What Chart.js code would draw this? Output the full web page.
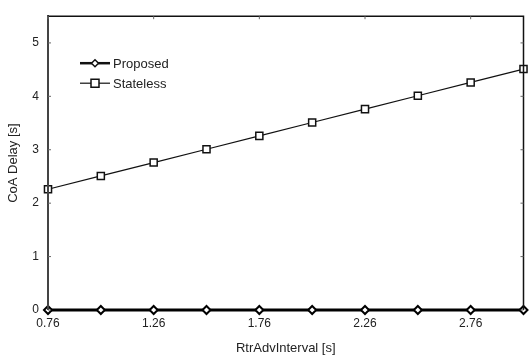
<!DOCTYPE html>
<html>
<head>
<meta charset="utf-8">
<script src="https://cdn.jsdelivr.net/npm/chart.js@4.4.1/dist/chart.umd.min.js"></script>
<style>
  html, body { margin:0; padding:0; background:#fff; }
  #wrap { width:530px; height:360px; position:relative; }
</style>
</head>
<body>
<div id="wrap"><canvas id="c"></canvas></div>
<script>
// data
const intervals = [0.76, 1.01, 1.26, 1.51, 1.76, 2.01, 2.26, 2.51, 2.76, 3.01];
const proposed  = [0, 0, 0, 0, 0, 0, 0, 0, 0, 0];
const stateless = [2.26, 2.51, 2.76, 3.01, 3.26, 3.51, 3.76, 4.01, 4.26, 4.51];
const xTicks = [0.76, 1.26, 1.76, 2.26, 2.76];
const yTicks = [0, 1, 2, 3, 4, 5];

const FONT = 'Liberation Sans, Arial, sans-serif';
const INK = '#222';

const pts = arr => intervals.map((x, i) => ({ x, y: arr[i] }));

// box round the plot, small inner ticks, legend in the upper left
const frame = {
  id: 'frame',
  afterDraw(chart) {
    const { ctx, chartArea: a, scales } = chart;
    ctx.save();
    ctx.strokeStyle = '#111';
    ctx.lineWidth = 1.5;
    ctx.beginPath();
    ctx.moveTo(a.left, a.top); ctx.lineTo(a.right, a.top); ctx.lineTo(a.right, a.bottom);
    ctx.stroke();
    ctx.strokeStyle = '#444';
    ctx.lineWidth = 2;
    ctx.beginPath(); ctx.moveTo(a.left, a.top); ctx.lineTo(a.left, a.bottom); ctx.stroke();

    // inner tick marks
    ctx.strokeStyle = '#666'; ctx.lineWidth = 1;
    ctx.beginPath();
    yTicks.forEach(v => {
      const y = scales.y.getPixelForValue(v);
      ctx.moveTo(a.left, y); ctx.lineTo(a.left + 3, y);
      ctx.moveTo(a.right, y); ctx.lineTo(a.right - 3, y);
    });
    xTicks.forEach(v => {
      const x = scales.x.getPixelForValue(v);
      ctx.moveTo(x, a.top); ctx.lineTo(x, a.top + 3);
    });
    ctx.stroke();

    const rows = [
      { t: 'Proposed',  lw: 2.5, shape: 'diamond' },
      { t: 'Stateless', lw: 1.2, shape: 'square' },
    ];
    rows.forEach((r, i) => {
      const y = a.top + 47 + i * 20, x0 = a.left + 32;
      ctx.strokeStyle = '#111'; ctx.lineWidth = r.lw;
      ctx.beginPath(); ctx.moveTo(x0, y); ctx.lineTo(x0 + 30, y); ctx.stroke();
      ctx.fillStyle = '#fff'; ctx.lineWidth = 1.5;
      const cx = x0 + 15;
      ctx.beginPath();
      if (r.shape === 'diamond') {
        ctx.moveTo(cx, y - 3.5); ctx.lineTo(cx + 3.5, y); ctx.lineTo(cx, y + 3.5); ctx.lineTo(cx - 3.5, y); ctx.closePath();
      } else {
        ctx.rect(cx - 4, y - 4, 8, 8);
      }
      ctx.fill(); ctx.stroke();
      ctx.fillStyle = INK; ctx.font = '13px ' + FONT; ctx.textBaseline = 'middle';
      ctx.fillText(r.t, x0 + 33, y + 1);
    });
    ctx.restore();
  }
};

new Chart(document.getElementById('c'), {
  type: 'line',
  data: {
    datasets: [
      { label:'Proposed', data: pts(proposed), borderColor:'#000', borderWidth:3,
        pointStyle:'rectRot', pointRadius:4, pointBorderWidth:2,
        pointBackgroundColor:'#fff', pointBorderColor:'#000', clip:false },
      { label:'Stateless', data: pts(stateless), borderColor:'#111', borderWidth:1.2,
        pointStyle:'rect', pointRadius:5, pointBorderWidth:1.5,
        pointBackgroundColor:'#fff', pointBorderColor:'#111', clip:false },
    ]
  },
  options: {
    responsive:true, maintainAspectRatio:false, animation:false,
    layout:{ padding:{ top:0, right:4, left:0, bottom:0 } },
    plugins:{ legend:{ display:false }, tooltip:{ enabled:false } },
    scales:{
      x:{
        type:'linear', min:0.76, max:3.01,
        afterBuildTicks: s => { s.ticks = xTicks.map(v => ({ value:v })); },
        afterFit: s => { s.height = 50; },
        grid:{ drawOnChartArea:false, drawTicks:false },
        border:{ color:'#111', width:2 },
        ticks:{ color:INK, font:{ family:FONT, size:12 }, padding:6, callback: v => v.toFixed(2) },
        title:{ display:true, text:'RtrAdvInterval [s]', color:INK, font:{ family:FONT, size:13 }, padding:{ top:0, bottom:4 } }
      },
      y:{
        min:0, max:5.5,
        afterBuildTicks: s => { s.ticks = yTicks.map(v => ({ value:v })); },
        afterFit: s => { s.width = 48; },
        grid:{ drawOnChartArea:false, drawTicks:false },
        border:{ color:'#444', width:2 },
        ticks:{ color:INK, font:{ family:FONT, size:12 }, padding:9 },
        title:{ display:true, text:'CoA Delay [s]', color:INK, font:{ family:FONT, size:13 }, padding:{ top:6, bottom:0 } }
      }
    }
  },
  plugins:[frame]
});
</script>
</body>
</html>
